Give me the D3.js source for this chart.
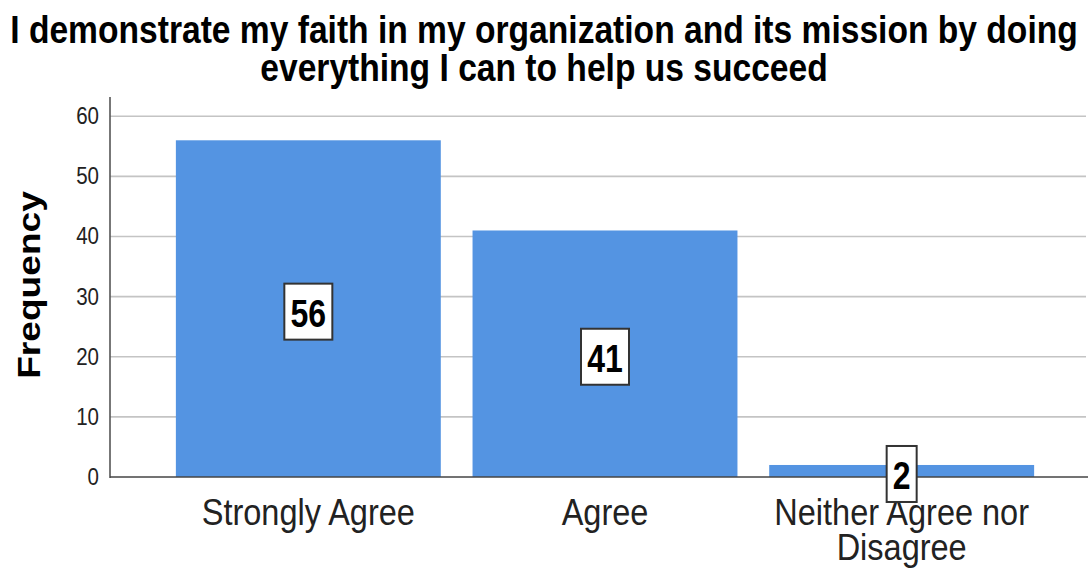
<!DOCTYPE html>
<html>
<head>
<meta charset="utf-8">
<script src="https://cdn.jsdelivr.net/npm/d3@7"></script>
<style>
  html, body { margin: 0; padding: 0; background: #fff; }
  svg { display: block; font-family: "Liberation Sans", Arial, sans-serif; }
</style>
</head>
<body>
<svg id="chart" width="1088" height="568"></svg>
<script>
// Survey responses
const categories = ["Strongly Agree", "Agree", "Neither Agree nor Disagree"];
const categoryLines = [["Strongly Agree"], ["Agree"], ["Neither Agree nor", "Disagree"]];
const frequencies = [56, 41, 2];
const yTicks = [0, 10, 20, 30, 40, 50, 60];
const titleLines = [
  "I demonstrate my faith in my organization and its mission by doing",
  "everything I can to help us succeed"
];
const yLabel = "Frequency";

const W = 1088, H = 568;
const svg = d3.select("#chart");
const STRETCH = 1.16; // glyphs are drawn taller than their width suggests

const x = d3.scaleBand()
  .domain(categories)
  .range([160, 1050])
  .paddingInner(0.107)
  .paddingOuter(0.0535);

const y = d3.scaleLinear().domain([0, 63.2]).range([477, 97]);

// Gridlines
svg.append("g")
  .selectAll("line")
  .data(yTicks.filter(t => t > 0))
  .join("line")
  .attr("x1", 110).attr("x2", 1086)
  .attr("y1", d => y(d)).attr("y2", d => y(d))
  .attr("stroke", "#c4c4c4")
  .attr("stroke-width", 1.6);

// Bars
svg.append("g")
  .selectAll("rect")
  .data(frequencies)
  .join("rect")
  .attr("x", (d, i) => x(categories[i]))
  .attr("width", x.bandwidth())
  .attr("y", d => y(d))
  .attr("height", d => y(0) - y(d))
  .attr("fill", "#5494e2");

// Axes lines
svg.append("line")
  .attr("x1", 110).attr("x2", 110)
  .attr("y1", y.range()[1]).attr("y2", y(0) + 1)
  .attr("stroke", "#555").attr("stroke-width", 1.6);
svg.append("line")
  .attr("x1", 110).attr("x2", W)
  .attr("y1", y(0)).attr("y2", y(0))
  .attr("stroke", "#444").attr("stroke-width", 1.6);

// Y tick labels
svg.append("g")
  .selectAll("text")
  .data(yTicks)
  .join("text")
  .attr("transform", d => `translate(99,${y(d) + 8}) scale(1,${STRETCH})`)
  .attr("text-anchor", "end")
  .attr("font-size", 20.5)
  .attr("fill", "#222")
  .text(d => d);

// Category labels
const catG = svg.append("g");
categoryLines.forEach((lines, i) => {
  const cx = x(categories[i]) + x.bandwidth() / 2;
  lines.forEach((ln, j) => {
    catG.append("text")
      .attr("transform", `translate(${cx},${525 + j * 35}) scale(1,${STRETCH})`)
      .attr("text-anchor", "middle")
      .attr("font-size", 32.5)
      .attr("fill", "#222")
      .text(ln);
  });
});

// Value labels in boxes
const lab = svg.append("g")
  .selectAll("g")
  .data(frequencies)
  .join("g")
  .attr("transform", (d, i) => `translate(${x(categories[i]) + x.bandwidth() / 2},${y(d / 2) + 3})`);
lab.append("rect")
  .attr("x", d => -(String(d).length * 9 + 6))
  .attr("width", d => 2 * (String(d).length * 9 + 6))
  .attr("y", -28).attr("height", 56)
  .attr("fill", "#fff")
  .attr("stroke", "#333")
  .attr("stroke-width", 2);
lab.append("text")
  .attr("transform", `translate(0,15) scale(1,1.2)`)
  .attr("text-anchor", "middle")
  .attr("font-size", 32)
  .attr("font-weight", "bold")
  .attr("fill", "#000")
  .text(d => d);

// Title
titleLines.forEach((t, i) => {
  svg.append("text")
    .attr("transform", `translate(544,${43 + i * 38}) scale(1,${STRETCH})`)
    .attr("text-anchor", "middle")
    .attr("font-size", 33.6)
    .attr("font-weight", "bold")
    .attr("fill", "#000")
    .text(t);
});

// Y axis title
svg.append("text")
  .attr("transform", `translate(40,285) rotate(-90) scale(${STRETCH},1)`)
  .attr("text-anchor", "middle")
  .attr("font-size", 32)
  .attr("font-weight", "bold")
  .attr("fill", "#000")
  .text(yLabel);
</script>
</body>
</html>
